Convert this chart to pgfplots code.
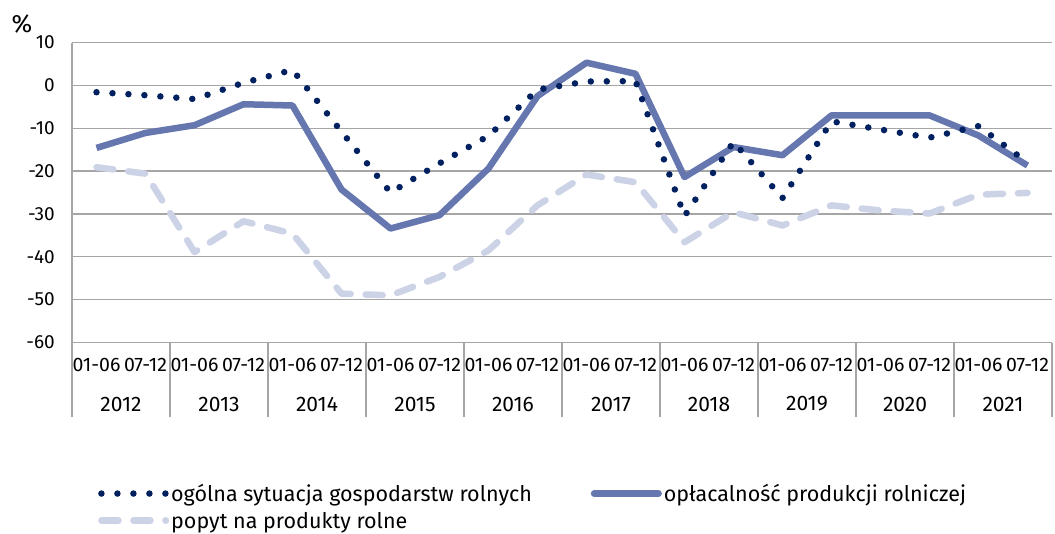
\documentclass[border=0pt]{standalone}
\usepackage{pgfplots}
\pgfplotsset{compat=1.18}
\usepackage{fontspec}
\setmainfont{Fira Sans}

\definecolor{cnavy}{HTML}{002060}
\definecolor{cslate}{HTML}{6677AF}
\definecolor{clight}{HTML}{CDD3E6}
\definecolor{cgrid}{HTML}{A6A6A6}

\pgfplotstableread{
x    ogolna  oplac  popyt
0.5  -1.6   -14.6  -19.1
1.5  -2.3   -11.1  -20.6
2.5  -3.2    -9.3  -38.9
3.5   0.6    -4.4  -31.7
4.5   3.6    -4.7  -34.6
5.5 -10.8   -24.3  -48.6
6.5 -25.0   -33.4  -49.0
7.5 -18.2   -30.3  -44.7
8.5 -11.8   -19.4  -38.5
9.5  -1.0    -2.5  -28.0
10.5  0.9     5.3  -20.8
11.5  1.0     2.7  -22.6
12.5 -30.5  -21.4  -36.6
13.5 -13.2  -14.4  -29.6
14.5 -26.3  -16.3  -32.7
15.5  -8.4   -7.0  -28.0
16.5 -10.3   -7.0  -29.2
17.5 -12.2   -7.0  -29.9
18.5  -9.5  -11.7  -25.5
19.5 -18.0  -18.7  -25.1
}\data

\begin{document}
\begin{tikzpicture}[x=1pt,y=1pt]
\path[use as bounding box] (0,0) rectangle (1055,-533);
\node[font=\fontsize{25}{28}\selectfont, inner sep=0pt] at (22,-23.5) {\%};
\begin{axis}[
  at={(72pt,-342.5pt)}, anchor=south west,
  scale only axis, width=980pt, height=300pt,
  xmin=0, xmax=20, ymin=-60, ymax=10,
  ytick={-60,-50,...,10},
  xtick={0.5,1.5,...,19.5},
  xticklabels={01-06,07-12,01-06,07-12,01-06,07-12,01-06,07-12,01-06,07-12,
               01-06,07-12,01-06,07-12,01-06,07-12,01-06,07-12,01-06,07-12},
  extra x ticks={1,3,...,19},
  extra x tick labels={2012,2013,2014,2015,2016,2017,2018,2019,2020,2021},
  extra x tick style={xticklabel style={yshift=-39pt, font=\fontsize{21}{24}\selectfont}},
  minor xtick={0,2,...,20},
  major tick length=0pt, minor tick length=74pt,
  tick align=outside,
  axis x line*=bottom, axis y line*=left,
  axis line style={cgrid, line width=1.2pt},
  minor tick style={cgrid, line width=1.2pt},
  ymajorgrids, grid style={cgrid, line width=1.2pt},
  /pgf/number format/assume math mode=true,
  xticklabel style={anchor=center, yshift=-22.5pt, inner sep=0pt, font=\fontsize{19.5}{23}\selectfont},
  yticklabel style={anchor=east, xshift=-17pt, inner sep=0pt, font=\fontsize{19}{22}\selectfont},
  legend columns=2,
  legend cell align=left,
  legend style={draw=none, fill=none, inner sep=0pt,
    at={(0.0265,-0.465)}, anchor=north west,
    font=\fontsize{21.5}{25}\selectfont,
    /tikz/every even column/.append style={column sep=57pt},
    row sep=5pt},
  legend image code/.code={\draw[#1] (0pt,0pt) -- (64.5pt,0pt);},
]
\addlegendimage{cnavy, line width=6.5pt, line cap=round, dash pattern=on 0pt off 16pt}
\addlegendentry{ogólna sytuacja gospodarstw rolnych}
\addlegendimage{cslate, line width=6.5pt, line cap=round}
\addlegendentry{opłacalność produkcji rolniczej}
\addlegendimage{clight, line width=6.5pt, line cap=round, dash pattern=on 17pt off 15pt}
\addlegendentry{popyt na produkty rolne}

\addplot[forget plot, clight, line width=6.5pt, line cap=round, line join=round,
  dash pattern=on 17pt off 15pt] table[x=x, y=popyt] {\data};
\addplot[forget plot, cslate, line width=6.5pt, line join=round] table[x=x, y=oplac] {\data};
\addplot[forget plot, cnavy, line width=6.5pt, line cap=round,
  dash pattern=on 0pt off 16pt] table[x=x, y=ogolna] {\data};
\end{axis}
\end{tikzpicture}
\end{document}
